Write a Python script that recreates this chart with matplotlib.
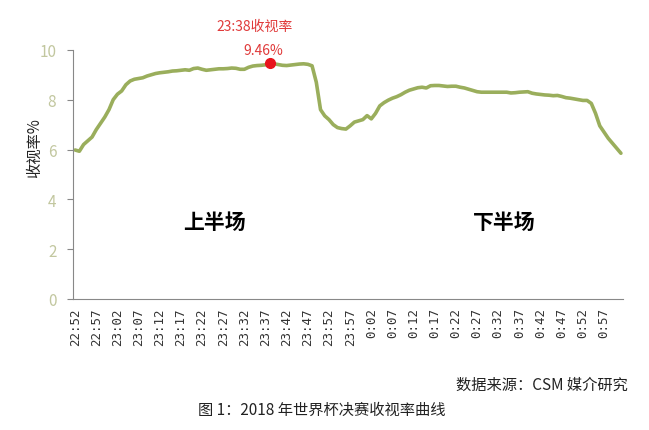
import numpy as np
from matplotlib import pyplot as plt

plt.rcParams['font.family'] = ['Noto Sans CJK SC', 'DejaVu Sans']

# minute-by-minute times from 22:52 to 1:01
times = ['22:52', '22:53', '22:54', '22:55', '22:56', '22:57', '22:58', '22:59',
         '23:00', '23:01', '23:02', '23:03', '23:04', '23:05', '23:06', '23:07',
         '23:08', '23:09', '23:10', '23:11', '23:12', '23:13', '23:14', '23:15',
         '23:16', '23:17', '23:18', '23:19', '23:20', '23:21', '23:22', '23:23',
         '23:24', '23:25', '23:26', '23:27', '23:28', '23:29', '23:30', '23:31',
         '23:32', '23:33', '23:34', '23:35', '23:36', '23:37', '23:38', '23:39',
         '23:40', '23:41', '23:42', '23:43', '23:44', '23:45', '23:46', '23:47',
         '23:48', '23:49', '23:50', '23:51', '23:52', '23:53', '23:54', '23:55',
         '23:56', '23:57', '23:58', '23:59', '0:00', '0:01', '0:02', '0:03',
         '0:04', '0:05', '0:06', '0:07', '0:08', '0:09', '0:10', '0:11',
         '0:12', '0:13', '0:14', '0:15', '0:16', '0:17', '0:18', '0:19',
         '0:20', '0:21', '0:22', '0:23', '0:24', '0:25', '0:26', '0:27',
         '0:28', '0:29', '0:30', '0:31', '0:32', '0:33', '0:34', '0:35',
         '0:36', '0:37', '0:38', '0:39', '0:40', '0:41', '0:42', '0:43',
         '0:44', '0:45', '0:46', '0:47', '0:48', '0:49', '0:50', '0:51',
         '0:52', '0:53', '0:54', '0:55', '0:56', '0:57', '0:58', '0:59',
         '1:00', '1:01']

ratings = [5.98, 5.93, 6.20, 6.35, 6.50, 6.80, 7.05, 7.30, 7.60, 8.00,
           8.22, 8.35, 8.60, 8.75, 8.82, 8.85, 8.88, 8.95, 9.00, 9.05,
           9.08, 9.10, 9.12, 9.15, 9.16, 9.18, 9.20, 9.18, 9.25, 9.27,
           9.22, 9.18, 9.20, 9.22, 9.24, 9.24, 9.25, 9.27, 9.26, 9.22,
           9.22, 9.30, 9.35, 9.37, 9.38, 9.40, 9.46, 9.44, 9.41, 9.38,
           9.37, 9.39, 9.41, 9.43, 9.44, 9.42, 9.36, 8.70, 7.60, 7.35,
           7.20, 7.00, 6.88, 6.84, 6.82, 6.95, 7.10, 7.15, 7.20, 7.36,
           7.23, 7.45, 7.75, 7.88, 7.98, 8.06, 8.12, 8.20, 8.30, 8.38,
           8.43, 8.48, 8.50, 8.47, 8.56, 8.57, 8.57, 8.55, 8.53, 8.54,
           8.54, 8.50, 8.47, 8.42, 8.37, 8.32, 8.30, 8.30, 8.30, 8.30,
           8.30, 8.30, 8.30, 8.27, 8.28, 8.30, 8.31, 8.32, 8.26, 8.23,
           8.21, 8.19, 8.18, 8.16, 8.17, 8.13, 8.08, 8.06, 8.03, 8.00,
           7.97, 7.97, 7.85, 7.45, 6.95, 6.70, 6.45, 6.25, 6.05, 5.85]

peak_time = '23:38'
peak_value = 9.46
yticks = [0, 2, 4, 6, 8, 10]

fig = plt.figure(figsize=(6.49, 4.31), dpi=100)
ax = fig.add_axes([0.1125, 0.304, 0.8475, 0.578])

x = np.arange(len(times))
ax.plot(x, ratings, color='#9aae5c', linewidth=2.6, solid_capstyle='round')

pi = times.index(peak_time)
ax.plot(pi, peak_value, 'o', color='#e8141c', markersize=7, zorder=3)
ax.text(pi - 1.5, peak_value + 0.25, '%.2f%%' % peak_value, color='#e03a3a',
        fontsize=10, ha='center', va='bottom')
ax.text(pi - 3.5, peak_value + 1.2, peak_time + '收视率', color='#e03a3a',
        fontsize=10, ha='center', va='bottom')

ax.text(33, 3.1, '上半场', fontsize=15, fontweight='bold', ha='center', va='center')
ax.text(101.5, 3.1, '下半场', fontsize=15, fontweight='bold', ha='center', va='center')

ax.set_xlim(-0.5, len(times) - 0.5)
ax.set_ylim(0, 10)
ax.set_yticks(yticks)
ax.set_xticks(x[::5])
ax.set_xticklabels(times[::5], rotation=90, family='DejaVu Sans Mono',
                   fontsize=9, color='#333333')
ax.tick_params(axis='x', length=0, pad=6)
ax.tick_params(axis='y', length=4, color='#888888', labelsize=11,
               labelcolor='#c2c79f', pad=8)
ax.set_ylabel('收视率%', fontsize=11, color='#222222')
ax.yaxis.set_label_coords(-0.054, 0.61)

for side in ['top', 'right']:
    ax.spines[side].set_visible(False)
for side in ['left', 'bottom']:
    ax.spines[side].set_color('#888888')

fig.text(0.968, 0.107, '数据来源：CSM 媒介研究', fontsize=11, ha='right', va='center',
         color='#222222')
fig.text(0.495, 0.048, '图 1：2018 年世界杯决赛收视率曲线', fontsize=11, ha='center',
         va='center', color='#222222')

fig.savefig('out.png', dpi=100)
